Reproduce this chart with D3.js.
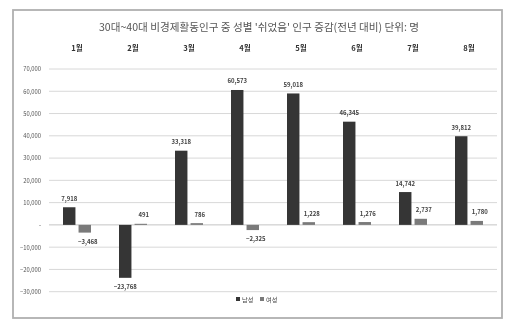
<!DOCTYPE html>
<html>
<head>
<meta charset="utf-8">
<script src="https://cdn.jsdelivr.net/npm/d3@7/dist/d3.min.js"></script>
<style>
  html, body { margin: 0; padding: 0; background: #fff; }
  svg { display: block; font-family: "Noto Sans CJK KR", "Noto Sans", sans-serif; }
</style>
</head>
<body>
<svg id="chart" width="505" height="320"></svg>
<script>
// Categories and series
const categories = ["1월", "2월", "3월", "4월", "5월", "6월", "7월", "8월"];
const seriesNames = ["남성", "여성"];
const menValues = [7918, -23768, 33318, 60573, 59018, 46345, 14742, 39812];
const womenValues = [-3468, 491, 786, -2325, 1228, 1276, 2737, 1780];
const yTicks = [70000, 60000, 50000, 40000, 30000, 20000, 10000, 0, -10000, -20000, -30000];
const titleText = "30대~40대 비경제활동인구 중 성별 '쉬었음' 인구 증감(전년 대비) 단위: 명";

const seriesColors = ["#363636", "#7a7a7a"];
const fmt = d3.format(",");

const svg = d3.select("#chart");

// soft scan-like rendering of the whole chart
const defs = svg.append("defs");
defs.append("filter").attr("id", "soft")
  .append("feGaussianBlur").attr("stdDeviation", 0.55);

const root = svg.append("g").attr("filter", "url(#soft)");

// outer frame
root.append("rect")
  .attr("x", 13).attr("y", 10).attr("width", 489).attr("height", 308)
  .attr("fill", "#fff").attr("stroke", "#b0b0b0").attr("stroke-width", 1.8);

const plot = { left: 49, right: 497, top: 69, bottom: 291.7 };

const y = d3.scaleLinear().domain([-30000, 70000]).range([plot.bottom, plot.top]);
const x0 = d3.scaleBand().domain(categories).range([plot.left, plot.right])
  .paddingInner(0.5).paddingOuter(0.25);
const x1 = d3.scaleBand().domain(seriesNames).range([0, x0.bandwidth()]).paddingInner(0.2);

// title
root.append("text")
  .attr("x", 259).attr("y", 31)
  .attr("text-anchor", "middle")
  .attr("font-size", 10.6)
  .attr("fill", "#555")
  .text(titleText);

// gridlines
root.append("g")
  .selectAll("line")
  .data(yTicks)
  .join("line")
  .attr("x1", plot.left).attr("x2", plot.right)
  .attr("y1", d => y(d)).attr("y2", d => y(d))
  .attr("stroke", d => d === 0 ? "#c4c4c4" : "#d8d8d8")
  .attr("stroke-width", 1);

// y axis labels
const yAxis = d3.axisLeft(y).tickValues(yTicks).tickSize(0).tickPadding(0)
  .tickFormat(d => d === 0 ? "-" : fmt(d));
const gy = root.append("g").attr("transform", `translate(${41},0)`).call(yAxis);
gy.select(".domain").remove();
gy.selectAll("text").attr("font-size", 5.8).attr("fill", "#555")
  .attr("font-family", "'Noto Sans CJK KR', sans-serif");

// category labels along the top
const xAxis = d3.axisTop(x0).tickSize(0).tickPadding(0);
const gx = root.append("g").attr("transform", `translate(0,${50.5})`).call(xAxis);
gx.select(".domain").remove();
gx.selectAll("text").attr("font-size", 7.6).attr("font-weight", "bold").attr("fill", "#333")
  .attr("font-family", "'Noto Sans CJK KR', sans-serif");

// bars
const rows = categories.map((c, i) => ({ cat: c, vals: [menValues[i], womenValues[i]] }));

const groups = root.append("g")
  .selectAll("g")
  .data(rows)
  .join("g")
  .attr("transform", d => `translate(${x0(d.cat)},0)`);

const cells = groups.selectAll("g")
  .data(d => d.vals.map((v, k) => ({ name: seriesNames[k], v, k })))
  .join("g");

cells.append("rect")
  .attr("x", d => x1(d.name))
  .attr("width", x1.bandwidth())
  .attr("y", d => y(Math.max(0, d.v)))
  .attr("height", d => Math.abs(y(d.v) - y(0)))
  .attr("fill", d => seriesColors[d.k]);

cells.append("text")
  .attr("x", d => x1(d.name) + x1.bandwidth() / 2 + (d.k === 1 ? 3 : 0))
  .attr("y", d => d.v >= 0 ? y(d.v) - 6.5 : y(d.v) + 11)
  .attr("text-anchor", "middle")
  .attr("font-size", 6)
  .attr("font-weight", "bold")
  .attr("fill", "#444")
  .text(d => fmt(d.v));

// legend
const legend = svg.append("g").attr("filter", "url(#soft)").attr("transform", "translate(236,300)");
seriesNames.forEach((name, k) => {
  const g = legend.append("g").attr("transform", `translate(${k * 24},0)`);
  g.append("rect").attr("x", 0).attr("y", -3).attr("width", 4).attr("height", 4)
    .attr("fill", seriesColors[k]);
  g.append("text").attr("x", 6).attr("y", 1.5)
    .attr("font-size", 6.2).attr("fill", "#444").text(name);
});
</script>
</body>
</html>
